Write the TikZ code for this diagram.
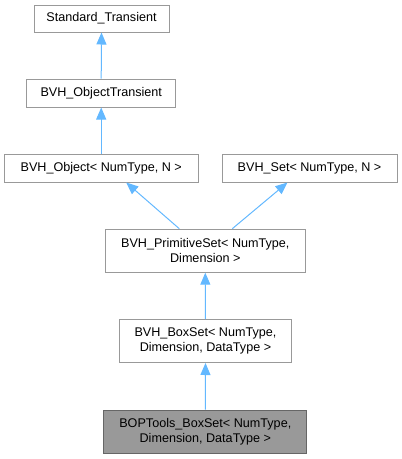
\documentclass[tikz,border=0pt]{standalone}
\usepackage{fontspec}
\setmainfont{Liberation Sans}
\usepackage{xcolor}
\definecolor{edge-blue}{RGB}{99,184,255}
\definecolor{box-border}{RGB}{153,153,153}
\definecolor{box-dark}{RGB}{102,102,102}
\definecolor{box-fill}{RGB}{153,153,153}
\usepackage{tikz}
\usetikzlibrary{arrows.meta,positioning}

\begin{document}
\begin{tikzpicture}[
    x=1pt, y=-1pt,
    every node/.style={inner sep=0pt},
    classbox/.style={
        draw=box-border,
        line width=1pt,
        fill=white,
        align=center,
        font=\fontsize{12.6}{15}\selectfont
    },
    focusbox/.style={classbox, draw=box-dark, fill=box-fill},
    inherit/.style={
        draw=edge-blue,
        line width=1pt,
        -{Triangle[length=12pt,width=10pt,fill=edge-blue]}
    }
]

% Page frame
\useasboundingbox (0,0) rectangle (402,459);

% Class boxes, top row first
\node[classbox, minimum width=135pt, minimum height=27pt] (stdtrans) at (101.5,18.5) {Standard\_Transient};
\node[classbox, minimum width=149pt, minimum height=28pt] (objtrans) at (101.2,93) {BVH\_ObjectTransient};
\node[classbox, minimum width=194pt, minimum height=28pt] (bvhobj) at (101.2,168) {BVH\_Object< NumType, N >};
\node[classbox, minimum width=175pt, minimum height=28pt] (bvhset) at (309.5,168) {BVH\_Set< NumType, N >};
\node[classbox, minimum width=200pt, minimum height=43pt] (primset) at (205.3,250.7) {BVH\_PrimitiveSet< NumType,\\Dimension >};
\node[classbox, minimum width=172pt, minimum height=43pt] (boxset) at (205.5,341) {BVH\_BoxSet< NumType,\\Dimension, DataType >};
\node[focusbox, minimum width=203pt, minimum height=43pt] (boptools) at (205.3,431.7) {BOPTools\_BoxSet< NumType,\\Dimension, DataType >};

% Inheritance arrows
\draw[inherit] (objtrans.north) -- (stdtrans.south);
\draw[inherit] (bvhobj.north) -- (objtrans.south);
\draw[inherit] ([xshift=-26pt]primset.north) -- ([xshift=25pt]bvhobj.south);
\draw[inherit] ([xshift=27pt]primset.north) -- ([xshift=-22pt]bvhset.south);
\draw[inherit] (boxset.north) -- (primset.south);
\draw[inherit] (boptools.north) -- (boxset.south);

\end{tikzpicture}
\end{document}
